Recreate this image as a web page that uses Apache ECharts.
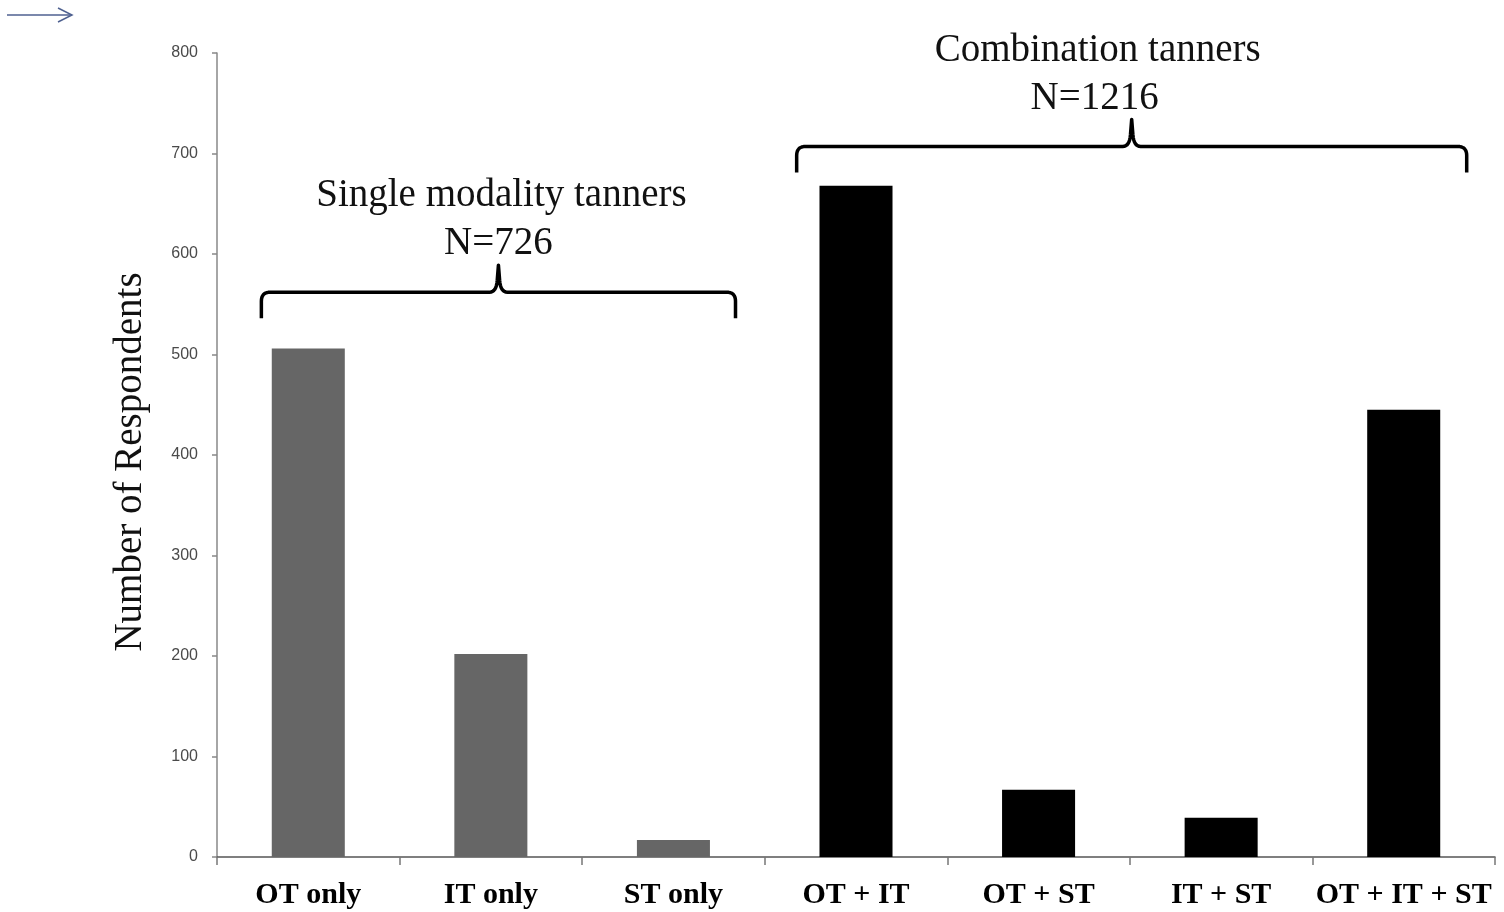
<!DOCTYPE html>
<html>
<head>
<meta charset="utf-8">
<script src="https://cdn.jsdelivr.net/npm/echarts@6/dist/echarts.min.js"></script>
<style>html,body{margin:0;padding:0;background:#fff}#c{width:1504px;height:912px}</style>
</head>
<body>
<div id="c"></div>
<script>
// ---- data ----
const categories = ['OT only', 'IT only', 'ST only', 'OT + IT', 'OT + ST', 'IT + ST', 'OT + IT + ST'];
const respondents = [506, 202, 17, 668, 67, 39, 445];
const groupOfCategory = ['single', 'single', 'single', 'combo', 'combo', 'combo', 'combo'];
const yTicks = [0, 100, 200, 300, 400, 500, 600, 700, 800];
const yAxisTitle = 'Number of Respondents';
const groupTitles = { single: 'Single modality tanners', combo: 'Combination tanners' };
const groupTotals = { single: 'N=726', combo: 'N=1216' };

const groupColors = { single: '#666666', combo: '#000000' };
const serif = '"Liberation Serif", "DejaVu Serif", serif';

const chart = echarts.init(document.getElementById('c'), null, { renderer: 'canvas' });

const option = {
  animation: false,
  backgroundColor: '#ffffff',
  grid: { left: 217, right: 9, top: 53, bottom: 55 },
  xAxis: {
    type: 'category',
    data: categories,
    boundaryGap: true,
    axisLine: { lineStyle: { color: '#555', width: 1.5 } },
    axisTick: { show: true, length: 8, inside: false, lineStyle: { color: '#777', width: 1.5 } },
    axisLabel: { color: '#000', fontFamily: serif, fontWeight: 'bold', fontSize: 30, margin: 23, interval: 0 }
  },
  yAxis: {
    type: 'value',
    min: yTicks[0],
    max: yTicks[yTicks.length - 1],
    interval: yTicks[1] - yTicks[0],
    axisLine: { show: true, lineStyle: { color: '#888', width: 1.5 } },
    axisTick: { show: true, length: 5, lineStyle: { color: '#888', width: 1.5 } },
    splitLine: { show: false },
    axisLabel: { color: '#4a4a4a', fontFamily: '"Liberation Sans", "DejaVu Sans", sans-serif', fontSize: 16, margin: 19 }
  },
  series: [{
    type: 'bar',
    barWidth: '40%',
    data: respondents.map((v, i) => ({ value: v, itemStyle: { color: groupColors[groupOfCategory[i]] } }))
  }]
};
chart.setOption(option);

function quad(p0, p1, p2, n) {
  const pts = [];
  for (let k = 1; k <= n; k++) {
    const t = k / n, u = 1 - t;
    pts.push([u * u * p0[0] + 2 * u * t * p1[0] + t * t * p2[0], u * u * p0[1] + 2 * u * t * p1[1] + t * t * p2[1]]);
  }
  return pts;
}

function drawAnnotations() {
  const c0 = chart.convertToPixel({ xAxisIndex: 0 }, 0);
  const c1 = chart.convertToPixel({ xAxisIndex: 0 }, 1);
  const bw = c1 - c0;
  const yAt = v => chart.convertToPixel({ yAxisIndex: 0 }, v);

  function brace(group, leftOff, rightOff, lineValue, textShift) {
    const idx = groupOfCategory.map((g, i) => g === group ? i : -1).filter(i => i >= 0);
    const first = chart.convertToPixel({ xAxisIndex: 0 }, idx[0]);
    const last = chart.convertToPixel({ xAxisIndex: 0 }, idx[idx.length - 1]);
    const L = first + leftOff * bw, R = last + rightOff * bw, M = (L + R) / 2;
    const y0 = yAt(lineValue);
    const leg = 26, peak = 27, r = 9;
    let pts = [[L, y0 + leg], [L, y0 + r]];
    pts = pts.concat(quad([L, y0 + r], [L, y0], [L + r, y0], 8));
    pts.push([M - 9, y0]);
    pts = pts.concat(quad([M - 9, y0], [M - 2, y0], [M - 1.2, y0 - 12], 8));
    pts.push([M, y0 - peak]);
    pts.push([M + 1.2, y0 - 12]);
    pts = pts.concat(quad([M + 1.2, y0 - 12], [M + 2, y0], [M + 9, y0], 8));
    pts.push([R - r, y0]);
    pts = pts.concat(quad([R - r, y0], [R, y0], [R, y0 + r], 8));
    pts.push([R, y0 + leg]);
    const tx = M + textShift;
    return [
      { type: 'polyline', shape: { points: pts }, style: { fill: null, stroke: '#000', lineWidth: 3.5, lineJoin: 'round' }, z: 10 },
      { type: 'text', x: tx, y: y0 - peak - 69, style: { text: groupTitles[group], font: '39px ' + serif, fill: '#111', align: 'center', verticalAlign: 'middle' }, z: 10 },
      { type: 'text', x: tx - 3, y: y0 - peak - 21, style: { text: groupTotals[group], font: '39px ' + serif, fill: '#111', align: 'center', verticalAlign: 'middle' }, z: 10 }
    ];
  }

  const elems = [].concat(
    brace('single', -0.257, 0.34, 562, 3),
    brace('combo', -0.325, 0.345, 707, -34)
  );
  // rotated y-axis title
  const gridTop = yAt(yTicks[yTicks.length - 1]), gridBottom = yAt(yTicks[0]);
  elems.push({
    type: 'text', x: 131, y: (gridTop + gridBottom) / 2 + 7, rotation: Math.PI / 2,
    style: { text: yAxisTitle, font: '39px ' + serif, fill: '#111', align: 'center', verticalAlign: 'middle' }
  });
  // decorative arrow at top-left
  elems.push({ type: 'line', shape: { x1: 7, y1: 15, x2: 72, y2: 15 }, style: { stroke: '#4f6190', lineWidth: 1.5 } });
  elems.push({ type: 'polyline', shape: { points: [[58, 8], [72, 15], [58, 22]] }, style: { stroke: '#4f6190', lineWidth: 1.5, fill: null } });
  chart.setOption({ graphic: elems });
}
drawAnnotations();
</script>
</body>
</html>
